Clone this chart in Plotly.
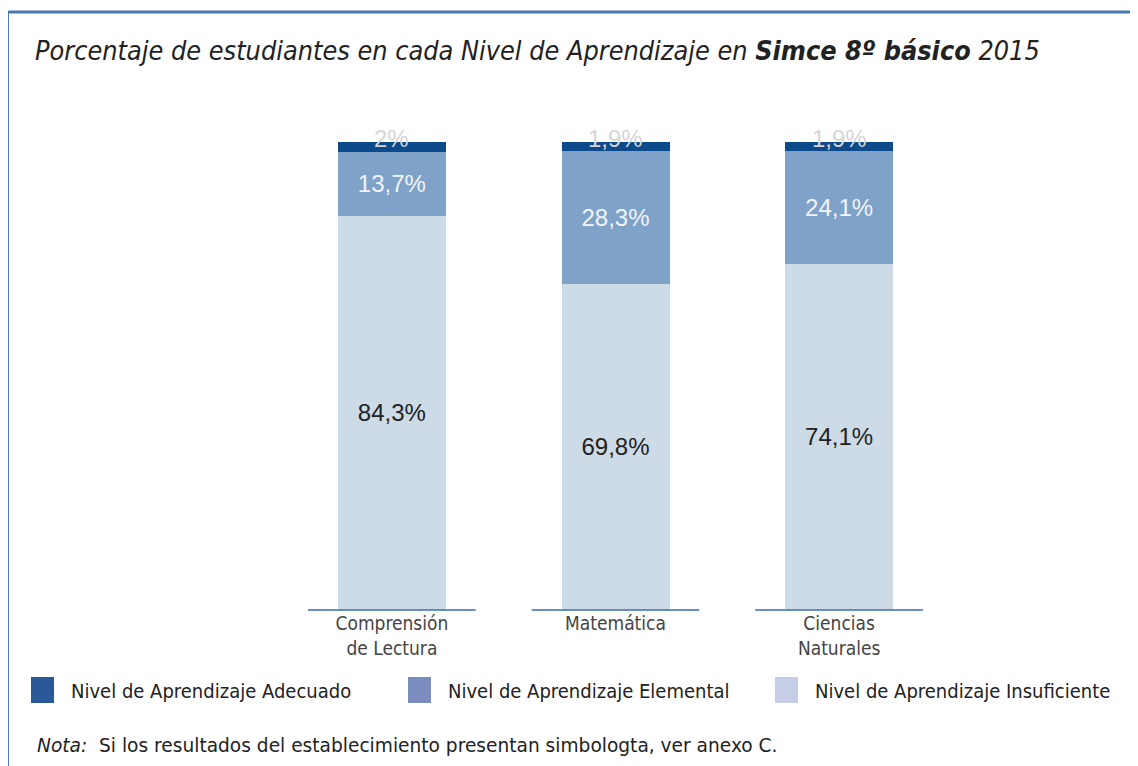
import plotly.graph_objects as go

categories = ["Comprensión<br>de Lectura", "Matemática", "Ciencias<br>Naturales"]
adecuado = [2.0, 1.9, 1.9]
elemental = [13.7, 28.3, 24.1]
insuficiente = [84.3, 69.8, 74.1]
adecuado_lbl = ["2%", "1,9%", "1,9%"]
elemental_lbl = ["13,7%", "28,3%", "24,1%"]
insuficiente_lbl = ["84,3%", "69,8%", "74,1%"]
legend_labels = ["Nivel de Aprendizaje Adecuado", "Nivel de Aprendizaje Elemental",
                 "Nivel de Aprendizaje Insuficiente"]
legend_colors = ["#2a5898", "#7b8dbf", "#c6cde6"]

OFF = 8  # page body margin
W, H = 1138 - OFF, 766 - OFF
ML, MR, MT, MB = 205, 120, 134, 156
PW, PH = W - ML - MR, H - MT - MB


def px(x):
    return (x - OFF - ML) / PW


def py(y):
    return 1 - (y - OFF - MT) / PH


xs = list(range(len(categories)))
bar_w = 0.483

fig = go.Figure()
fig.add_bar(x=xs, y=insuficiente, width=bar_w, marker_color="#cddbe7", marker_line_width=0,
            text=insuficiente_lbl, textposition="inside", insidetextanchor="middle",
            textfont=dict(family="Liberation Sans, Arial", size=24, color="#222222"),
            showlegend=False, hoverinfo="skip")
fig.add_bar(x=xs, y=elemental, width=bar_w, marker_color="#7fa3c8", marker_line_width=0,
            text=elemental_lbl, textposition="inside", insidetextanchor="middle",
            textfont=dict(family="Liberation Sans, Arial", size=24, color="#f2f4f8"),
            showlegend=False, hoverinfo="skip")
fig.add_bar(x=xs, y=adecuado, width=bar_w, marker_color="#0d4a8b", marker_line_width=0,
            showlegend=False, hoverinfo="skip")

# top labels for Adecuado
for i, lbl in enumerate(adecuado_lbl):
    top = insuficiente[i] + elemental[i] + adecuado[i]
    fig.add_annotation(x=xs[i], y=top, text=lbl, showarrow=False, yanchor="middle", yshift=4,
                       font=dict(family="Liberation Sans, Arial", size=24, color="#d6d6d6"))

# baseline segments
for i in xs:
    fig.add_shape(type="line", xref="x", yref="paper", x0=i - 0.375, x1=i + 0.375, y0=0, y1=0,
                  line=dict(color="#3a6cae", width=1.6))

# frame
fig.add_shape(type="line", xref="paper", yref="paper", x0=px(7), x1=px(1146), y0=py(12), y1=py(12),
              line=dict(color="#4a78b2", width=3))
fig.add_shape(type="line", xref="paper", yref="paper", x0=px(8), x1=px(8), y0=py(12), y1=py(780),
              line=dict(color="#4a78b2", width=2))

# title
fig.add_annotation(xref="paper", yref="paper", x=px(33), y=py(50), xanchor="left", yanchor="middle",
                   showarrow=False,
                   text="<i>Porcentaje de estudiantes en cada Nivel de Aprendizaje en <b>Simce 8º básico</b> 2015</i>",
                   font=dict(family="DejaVu Sans Condensed, DejaVu Sans", size=26.8, color="#222222"))

# legend
leg_x = [31, 408, 775]
for i, (lbl, col) in enumerate(zip(legend_labels, legend_colors)):
    fig.add_shape(type="rect", xref="paper", yref="paper", x0=px(leg_x[i]), x1=px(leg_x[i] + 23),
                  y0=py(703), y1=py(677), fillcolor=col, line_width=0)
    fig.add_annotation(xref="paper", yref="paper", x=px(leg_x[i] + 38), y=py(691), xanchor="left",
                       yanchor="middle", showarrow=False, text=lbl,
                       font=dict(family="DejaVu Sans Condensed, DejaVu Sans", size=20, color="#222222"))

# note
fig.add_annotation(xref="paper", yref="paper", x=px(35), y=py(745), xanchor="left", yanchor="middle",
                   showarrow=False,
                   text="<i>Nota:</i>  Si los resultados del establecimiento presentan simbologta, ver anexo C.",
                   font=dict(family="DejaVu Sans, Arial", size=18.6, color="#222222"))

fig.update_layout(
    barmode="stack",
    width=W, height=H,
    margin=dict(l=ML, r=MR, t=MT, b=MB),
    paper_bgcolor="white", plot_bgcolor="white",
    xaxis=dict(tickmode="array", tickvals=xs, ticktext=categories, range=[-0.8, 2.8],
               showgrid=False, zeroline=False, showline=False, ticks="",
               tickfont=dict(family="DejaVu Sans Condensed, DejaVu Sans", size=19, color="#444444")),
    yaxis=dict(range=[0, 100.1], visible=False, showgrid=False),
)

fig.write_html("out.html")
